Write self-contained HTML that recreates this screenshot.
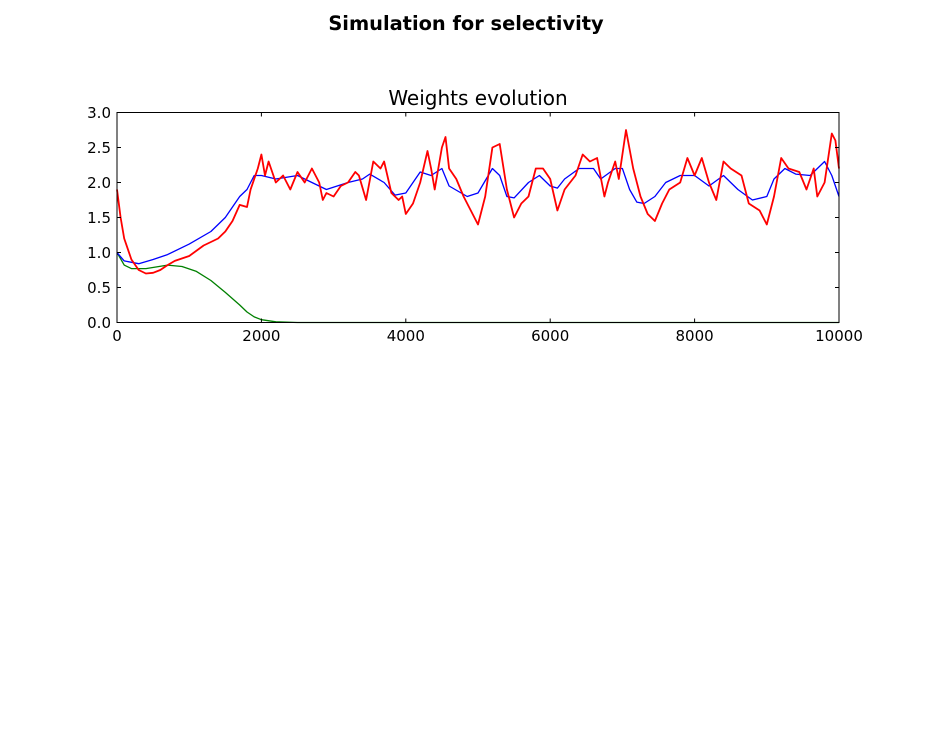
<!DOCTYPE html>
<html><head><meta charset="utf-8"><style>
body{margin:0;background:#fff;}
svg text{font-family:"DejaVu Sans","Liberation Sans",sans-serif;}
</style></head><body>
<svg id="fig" width="932" height="747" xmlns="http://www.w3.org/2000/svg">
<rect width="932" height="747" fill="#fff"/>
<text x="466" y="30" text-anchor="middle" font-size="19.4" font-weight="bold">Simulation for selectivity</text>
<text x="478" y="105" text-anchor="middle" font-size="20">Weights evolution</text>
<g id="plot"></g>
</svg>
<script>
const xTicks=[0,2000,4000,6000,8000,10000];
const yTicks=[0.0,0.5,1.0,1.5,2.0,2.5,3.0];
const blueT=[0,100,300,500,700,1000,1300,1500,1700,1800,1900,2000,2200,2500,2700,2900,3200,3400,3500,3700,3850,4000,4200,4350,4500,4600,4850,5000,5200,5300,5400,5500,5700,5850,6000,6100,6200,6400,6600,6700,6900,7000,7100,7200,7300,7450,7600,7800,8000,8200,8400,8600,8800,9000,9100,9250,9400,9600,9800,9900,10000];
const blueV=[1.0,0.88,0.84,0.9,0.97,1.12,1.3,1.5,1.8,1.9,2.1,2.1,2.05,2.1,2.0,1.9,2.0,2.05,2.12,2.0,1.82,1.85,2.15,2.1,2.2,1.95,1.8,1.85,2.2,2.1,1.8,1.78,2.0,2.1,1.95,1.92,2.05,2.2,2.2,2.05,2.2,2.2,1.9,1.72,1.7,1.8,2.0,2.1,2.1,1.95,2.1,1.9,1.75,1.8,2.05,2.2,2.12,2.1,2.3,2.1,1.8];
const greenT=[0,100,200,400,700,900,1100,1300,1500,1700,1800,1900,2000,2200,2500,10000];
const greenV=[1.0,0.82,0.77,0.77,0.82,0.8,0.73,0.6,0.43,0.25,0.15,0.08,0.04,0.01,0.0,0.0];
const redT=[0,50,100,200,300,400,500,600,700,800,1000,1200,1300,1400,1500,1600,1700,1800,1850,1950,2000,2050,2100,2200,2300,2400,2500,2600,2700,2800,2850,2900,3000,3100,3200,3300,3350,3450,3550,3650,3700,3800,3900,3950,4000,4100,4200,4300,4350,4400,4500,4550,4600,4700,4800,4900,5000,5100,5200,5300,5400,5500,5600,5700,5800,5900,6000,6100,6200,6350,6450,6550,6650,6750,6800,6900,6950,7050,7150,7250,7350,7450,7550,7650,7800,7900,8000,8100,8200,8300,8400,8500,8650,8750,8900,9000,9100,9200,9300,9450,9550,9650,9700,9800,9900,9950,10000];
const redV=[1.9,1.5,1.2,0.9,0.75,0.7,0.71,0.75,0.82,0.88,0.95,1.1,1.15,1.2,1.3,1.45,1.68,1.65,1.9,2.2,2.4,2.1,2.3,2.0,2.1,1.9,2.15,2.0,2.2,2.0,1.75,1.85,1.8,1.95,2.0,2.15,2.1,1.75,2.3,2.2,2.3,1.85,1.75,1.8,1.55,1.7,2.0,2.45,2.2,1.9,2.5,2.65,2.2,2.05,1.8,1.6,1.4,1.8,2.5,2.55,1.9,1.5,1.7,1.8,2.2,2.2,2.05,1.6,1.9,2.1,2.4,2.3,2.35,1.8,2.0,2.3,2.05,2.75,2.2,1.8,1.55,1.45,1.7,1.9,2.0,2.35,2.1,2.35,2.0,1.75,2.3,2.2,2.1,1.7,1.6,1.4,1.8,2.35,2.2,2.15,1.9,2.2,1.8,2.0,2.7,2.6,2.2];
const X0=117,X1=839,Y0=322.5,Y1=112.5;
const sx=t=>X0+(X1-X0)*t/10000;
const sy=v=>Y0-(Y0-Y1)*v/3;
const NS="http://www.w3.org/2000/svg";
const g=document.getElementById('plot');
function mk(tag,attrs){const e=document.createElementNS(NS,tag);for(const k in attrs)e.setAttribute(k,attrs[k]);g.appendChild(e);return e;}
function line(ts,vs,color,name,w){
 const p=mk('polyline',{points:ts.map((t,i)=>sx(t).toFixed(1)+','+sy(vs[i]).toFixed(1)).join(' '),fill:'none',stroke:color,'stroke-width':w,'stroke-linejoin':'round'});
 
 
}
line(greenT,greenV,'#008000','series-green',1.3);
line(blueT,blueV,'#0000ff','series-blue',1.3);
line(redT,redV,'#ff0000','series-red',1.8);
const fr=mk('rect',{x:X0,y:Y1,width:X1-X0,height:Y0-Y1,fill:'none',stroke:'#000','stroke-width':1});


xTicks.forEach(t=>{
 const x=sx(t);
 mk('line',{x1:x,x2:x,y1:Y0,y2:Y0-4,stroke:'#000'});
 mk('line',{x1:x,x2:x,y1:Y1,y2:Y1+4,stroke:'#000'});
 const tx=mk('text',{x:x,y:341,'text-anchor':'middle','font-size':15});
 tx.textContent=t;
 
 
});
yTicks.forEach(v=>{
 const y=sy(v);
 mk('line',{x1:X0,x2:X0+4,y1:y,y2:y,stroke:'#000'});
 mk('line',{x1:X1,x2:X1-4,y1:y,y2:y,stroke:'#000'});
 const tx=mk('text',{x:111,y:y+5.5,'text-anchor':'end','font-size':15});
 tx.textContent=v.toFixed(1);
 
 
});
</script>
</body></html>
